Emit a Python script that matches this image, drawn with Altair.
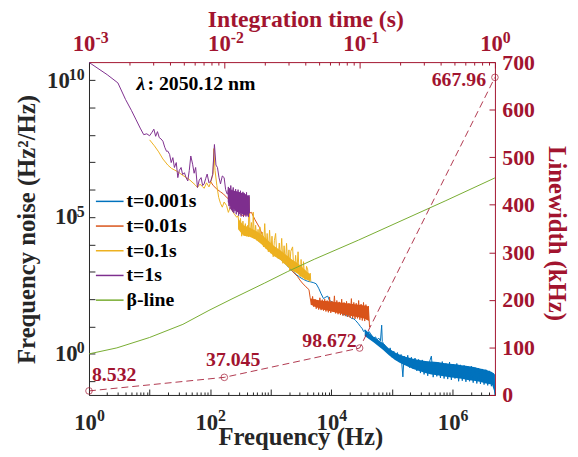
import altair as alt
import pandas as pd

SERIF = "Liberation Serif"
DARK = "#262626"
RED = "#A2142F"

SERIES = ["t=0.001s", "t=0.01s", "t=0.1s", "t=1s", "β-line"]
COLORS = ["#0072BD", "#D95319", "#EDB120", "#7E2F8E", "#77AC30"]

# Spectra: (log10 frequency [Hz], log10 noise [Hz^2/Hz])
BLUE = [
    (3.00, 3.72), (3.06, 3.62), (3.12, 3.52), (3.18, 3.42), (3.24, 3.30), (3.30, 3.15), (3.36, 3.02),
    (3.42, 2.90), (3.48, 2.80), (3.54, 2.72), (3.60, 2.66), (3.66, 2.63), (3.71, 2.60), (3.75, 2.56),
    (3.79, 2.40), (3.83, 2.20), (3.87, 2.02), (3.91, 2.08), (3.94, 2.11), (3.97, 1.95), (4.01, 1.90),
    (4.05, 1.85), (4.09, 1.80), (4.13, 1.72), (4.16, 1.55), (4.19, 1.42), (4.23, 1.45), (4.26, 1.36),
    (4.29, 1.40), (4.33, 1.30), (4.37, 1.28), (4.40, 1.22), (4.44, 1.12), (4.48, 1.00), (4.51, 0.92),
    (4.53, 0.82), (4.56, 0.86), (4.59, 0.70), (4.62, 0.82), (4.64, 0.76), (4.67, 0.66), (4.70, 0.58),
    (4.73, 0.62), (4.75, 0.50), (4.78, 0.58), (4.81, 0.48), (4.83, 1.05), (4.84, 0.45), (4.86, 0.38),
    (4.89, 0.30), (4.91, 0.22), (4.94, 0.02), (4.97, 0.22), (5.00, -0.12), (5.03, 0.10), (5.06, -0.22),
    (5.09, 0.05), (5.12, -0.30), (5.15, -0.02), (5.18, -0.84), (5.20, -0.08), (5.23, -0.40), (5.26, -0.05),
    (5.29, -0.50), (5.32, -0.12), (5.35, -0.55), (5.38, -0.15), (5.41, -0.62), (5.44, -0.20), (5.47, -0.70),
    (5.50, -0.22), (5.53, -0.75), (5.56, -0.30), (5.59, -0.80), (5.62, -0.28), (5.65, -0.08), (5.68, -0.85),
    (5.71, -0.30), (5.74, -0.82), (5.77, -0.32), (5.80, -0.88), (5.83, -0.28), (5.86, -0.90), (5.89, -0.35),
    (5.92, -0.92), (5.95, -0.30), (5.98, -0.95), (6.01, -0.38), (6.04, -0.90), (6.07, -0.35), (6.10, -1.00),
    (6.13, -0.40), (6.16, -0.98), (6.19, -0.42), (6.22, -1.02), (6.25, -0.45), (6.28, -1.00), (6.31, -0.45),
    (6.34, -1.05), (6.37, -0.50), (6.40, -1.08), (6.43, -0.52), (6.46, -1.10), (6.49, -0.55), (6.52, -1.12),
    (6.55, -0.58), (6.58, -1.15), (6.61, -0.62), (6.64, -1.18), (6.67, -0.70), (6.699, -1.50),
]
ORANGE = [
    (2.00, 6.32), (2.05, 6.15), (2.11, 6.02), (2.17, 5.92), (2.22, 5.84), (2.28, 5.70), (2.33, 5.60),
    (2.39, 5.42), (2.44, 5.23), (2.49, 5.12), (2.54, 5.05), (2.60, 5.10), (2.68, 5.17), (2.74, 4.90),
    (2.81, 4.63), (2.86, 4.35), (2.92, 4.03), (2.97, 3.85), (3.03, 3.73), (3.08, 3.72), (3.14, 3.67),
    (3.20, 3.52), (3.25, 3.37), (3.30, 3.20), (3.36, 3.01), (3.40, 2.92), (3.44, 2.83), (3.48, 2.70),
    (3.52, 2.59), (3.58, 2.45), (3.63, 2.35), (3.65, 2.05), (3.67, 1.80), (3.69, 2.10), (3.71, 1.72),
    (3.73, 2.00), (3.75, 1.65), (3.77, 1.95), (3.79, 1.62), (3.81, 2.05), (3.83, 1.60), (3.85, 1.98),
    (3.87, 1.58), (3.89, 2.00), (3.91, 1.55), (3.93, 1.95), (3.95, 1.52), (3.97, 2.08), (3.99, 1.50),
    (4.01, 1.92), (4.03, 1.55), (4.05, 2.12), (4.07, 1.48), (4.09, 1.95), (4.11, 1.45), (4.13, 1.90),
    (4.15, 1.42), (4.17, 2.00), (4.19, 1.40), (4.21, 1.88), (4.23, 1.38), (4.25, 1.92), (4.27, 1.35),
    (4.29, 1.85), (4.31, 1.32), (4.33, 2.02), (4.35, 1.30), (4.37, 1.88), (4.39, 1.28), (4.41, 1.85),
    (4.43, 1.30), (4.45, 1.95), (4.47, 1.25), (4.49, 1.82), (4.51, 1.22), (4.53, 1.88), (4.55, 1.20),
    (4.57, 1.80), (4.59, 1.25), (4.61, 1.75), (4.63, 0.98),
]
YELLOW = [
    (1.00, 7.82), (1.08, 7.60), (1.15, 7.38), (1.22, 7.12), (1.30, 6.90), (1.36, 6.78), (1.41, 6.72),
    (1.46, 6.66), (1.50, 6.60), (1.55, 6.52), (1.60, 6.45), (1.65, 6.38), (1.70, 6.28), (1.75, 6.18),
    (1.79, 6.08), (1.83, 6.20), (1.87, 6.12), (1.90, 6.05), (1.94, 6.25), (1.98, 6.10), (2.02, 6.35),
    (2.05, 6.60), (2.06, 7.50), (2.08, 6.70), (2.11, 6.15), (2.14, 5.72), (2.17, 5.50), (2.20, 5.36),
    (2.23, 5.55), (2.27, 5.42), (2.30, 5.17), (2.33, 5.35), (2.36, 5.25), (2.40, 5.10), (2.44, 4.99),
    (2.46, 5.05), (2.48, 4.60), (2.50, 4.95), (2.52, 4.30), (2.54, 4.85), (2.56, 4.35), (2.58, 4.76),
    (2.60, 4.30), (2.62, 4.70), (2.63, 4.28), (2.64, 5.72), (2.66, 4.30), (2.68, 4.80), (2.70, 4.25),
    (2.71, 5.18), (2.73, 4.20), (2.75, 4.70), (2.77, 4.15), (2.79, 4.55), (2.81, 4.10), (2.82, 4.64),
    (2.84, 4.05), (2.86, 4.45), (2.88, 3.91), (2.90, 4.76), (2.92, 3.85), (2.94, 4.40), (2.96, 3.73),
    (2.98, 4.52), (3.00, 3.68), (3.02, 4.30), (3.04, 3.55), (3.06, 4.15), (3.08, 4.40), (3.10, 3.58),
    (3.12, 3.49), (3.14, 4.05), (3.16, 3.45), (3.18, 4.22), (3.20, 3.31), (3.22, 3.95), (3.24, 3.28),
    (3.26, 4.04), (3.28, 3.20), (3.30, 3.80), (3.31, 3.07), (3.33, 3.75), (3.36, 3.91), (3.38, 3.05),
    (3.39, 3.01), (3.41, 3.60), (3.43, 2.98), (3.45, 3.73), (3.47, 2.90), (3.49, 2.83), (3.50, 3.45),
    (3.52, 2.80), (3.54, 3.37), (3.56, 2.75), (3.57, 2.71), (3.59, 3.20), (3.61, 3.07), (3.62, 2.70),
    (3.63, 2.90), (3.64, 2.65), (3.65, 2.95), (3.66, 2.65),
]
PURPLE = [
    (0.000, 10.65), (0.301, 10.20), (0.477, 9.90), (0.602, 9.30), (0.699, 8.90), (0.778, 8.55),
    (0.845, 8.25), (0.903, 8.01), (0.954, 8.04), (1.000, 7.97), (1.041, 8.10), (1.070, 8.21),
    (1.100, 7.95), (1.130, 8.12), (1.160, 7.90), (1.190, 7.85), (1.220, 7.77), (1.250, 7.55),
    (1.280, 7.40), (1.300, 7.41), (1.330, 7.29), (1.357, 6.99), (1.384, 7.17), (1.410, 6.81),
    (1.440, 6.99), (1.466, 6.44), (1.490, 6.70), (1.520, 6.81), (1.545, 6.55), (1.575, 6.62),
    (1.600, 6.45), (1.630, 6.32), (1.655, 6.70), (1.680, 7.23), (1.710, 6.93), (1.735, 6.60),
    (1.760, 6.81), (1.790, 6.08), (1.820, 6.35), (1.850, 6.44), (1.875, 6.15), (1.900, 6.21),
    (1.925, 6.40), (1.950, 6.57), (1.980, 6.25), (2.010, 6.32), (2.040, 6.55), (2.070, 7.65),
    (2.095, 6.90), (2.120, 6.81), (2.145, 6.45), (2.170, 6.21), (2.200, 6.50), (2.230, 6.44),
    (2.255, 6.00), (2.280, 5.84), (2.29, 5.84), (2.30, 6.10), (2.31, 5.40), (2.32, 6.05), (2.33, 5.30),
    (2.34, 6.15), (2.35, 5.25), (2.36, 6.00), (2.37, 5.20), (2.38, 6.08), (2.39, 5.15), (2.40, 5.95),
    (2.41, 5.22), (2.42, 6.02), (2.43, 5.10), (2.44, 5.92), (2.45, 5.18), (2.46, 6.00), (2.47, 5.05),
    (2.48, 5.90), (2.49, 5.12), (2.50, 5.96), (2.51, 5.02), (2.52, 5.85), (2.53, 5.10), (2.54, 5.92),
    (2.55, 5.00), (2.56, 5.88), (2.57, 5.08), (2.58, 5.80), (2.59, 5.02), (2.60, 5.90), (2.61, 5.05),
    (2.62, 5.75), (2.63, 5.00), (2.64, 5.80), (2.65, 5.15),
]
BETA = [
    (0.00, 0.00), (0.46, 0.22), (1.00, 0.60), (1.55, 1.08), (1.98, 1.59), (2.36, 2.01), (2.90, 2.59),
    (3.28, 3.01), (3.72, 3.46), (4.45, 4.16), (5.89, 5.60), (6.699, 6.43),
]
# Dense (filled-looking) parts of the noisy traces: (log10 f, upper, lower)
BLUE_BAND = [
    (4.55, 0.90, 0.65), (4.70, 0.62, 0.42), (4.85, 0.40, 0.15), (4.95, 0.20, -0.05), (5.05, 0.05, -0.22),
    (5.15, -0.05, -0.35), (5.25, -0.12, -0.45), (5.35, -0.18, -0.55), (5.45, -0.22, -0.62),
    (5.55, -0.26, -0.70), (5.65, -0.28, -0.75), (5.75, -0.30, -0.78), (5.85, -0.33, -0.82),
    (5.95, -0.36, -0.85), (6.05, -0.38, -0.88), (6.15, -0.41, -0.91), (6.25, -0.44, -0.95),
    (6.35, -0.48, -0.98), (6.45, -0.53, -1.02), (6.55, -0.58, -1.08), (6.65, -0.66, -1.12),
    (6.699, -0.75, -1.45),
]
ORANGE_BAND = [
    (3.66, 2.02, 1.80), (3.75, 1.98, 1.70), (3.85, 1.94, 1.62), (3.95, 1.92, 1.58), (4.05, 1.90, 1.52),
    (4.15, 1.88, 1.48), (4.25, 1.85, 1.42), (4.35, 1.82, 1.38), (4.45, 1.80, 1.34), (4.55, 1.77, 1.28),
    (4.62, 1.72, 1.20),
]
YELLOW_BAND = [
    (2.46, 4.95, 4.55), (2.55, 4.70, 4.32), (2.65, 4.62, 4.28), (2.75, 4.50, 4.18), (2.85, 4.35, 4.00),
    (2.95, 4.15, 3.78), (3.05, 3.95, 3.58), (3.15, 3.80, 3.45), (3.25, 3.62, 3.25), (3.35, 3.45, 3.05),
    (3.45, 3.30, 2.92), (3.55, 3.10, 2.75), (3.65, 2.90, 2.65),
]
PURPLE_BAND = [
    (2.29, 6.00, 5.55), (2.35, 5.98, 5.35), (2.42, 5.95, 5.25), (2.50, 5.90, 5.15), (2.57, 5.85, 5.10),
    (2.65, 5.75, 5.12),
]

# Linewidth vs integration time
INT_TIME = [0.001, 0.01, 0.1, 1.0]
LINEWIDTH_KHZ = [8.532, 37.045, 98.672, 667.96]
LW_LABELS = ["8.532", "37.045", "98.672", "667.96"]

# Annotation
LAMBDA_F = [6.1]
LAMBDA_S = [4.5e9]
LAMBDA_TEXT = ["λ", ": 2050.12 nm"]


def spectrum(pairs, name):
    return pd.DataFrame({"f": [10 ** a for a, _ in pairs], "S": [10 ** b for _, b in pairs], "series": name})


def band(rows):
    return pd.DataFrame({"f": [10 ** a for a, _, _ in rows],
                         "top": [10 ** b for _, b, _ in rows],
                         "bot": [10 ** c for _, _, c in rows]})


W, H = 411, 337
XS = alt.Scale(type="log", domain=[1, 5e6], nice=False)
YS = alt.Scale(type="log", domain=[10 ** -1.5, 10 ** 10.66], nice=False)
XS2 = alt.Scale(type="log", domain=[1e-3, 1], nice=False)
YS2 = alt.Scale(type="linear", domain=[0, 700], nice=False, zero=False)
CS = alt.Scale(domain=SERIES, range=COLORS)

lab = dict(labelFont=SERIF, labelFontWeight="bold", labelFlush=False, labelOverlap=False, grid=False)
ttl = dict(titleFont=SERIF, titleFontWeight="bold", titleFontSize=25, titleBaseline="alphabetic",
           titleAlign="center")

EXP = "round(log(datum.value)/LN10)"

AX_BOTTOM = alt.Axis(orient="bottom", values=[1, 1e2, 1e4, 1e6], labelExpr="'10'", ticks=False, tickSize=0,
                     domainColor=DARK, domainWidth=1, labelFontSize=23, labelColor=DARK,
                     labelBaseline="alphabetic", labelAlign="center", labelPadding=35, labelOffset=-4,
                     title="Frequency (Hz)", titleColor=DARK, titleX=214, titleY=50, titleAngle=0, **lab, **ttl)
AX_LEFT = alt.Axis(orient="left", values=[1, 1e5, 1e10], labelExpr="'10'", ticks=False, tickSize=0,
                   domainColor=DARK, domainWidth=1, labelFontSize=23, labelColor=DARK,
                   labelAlign="right", labelBaseline="middle",
                   labelPadding={"condition": {"test": "datum.value > 1e9", "value": 20}, "value": 12},
                   title="Frequency noise (Hz²/Hz)", titleColor=DARK, titleX=-55, titleY=169,
                   titleAngle=-90, **lab, **ttl)
AX_BOTTOM_T = alt.Axis(orient="bottom", offset=-6, values=[10 ** k for k in range(0, 7)], tickSize=6,
                       tickColor=DARK, tickWidth=1, domain=False,
                       labelExpr=f"({EXP} % 2 == 0) ? '' + {EXP} : ''", labelFontSize=16, labelColor=DARK,
                       labelAlign="left", labelBaseline="alphabetic", labelPadding=26, labelOffset=7.5,
                       title=None, **lab)
AX_LEFT_T = alt.Axis(orient="left", offset=-6, values=[10 ** k for k in range(-1, 11)], tickSize=6,
                     tickColor=DARK, tickWidth=1, domain=False,
                     labelExpr=f"({EXP} % 5 == 0) ? '' + {EXP} : ''", labelFontSize=16, labelColor=DARK,
                     labelAlign="right", labelBaseline="middle", labelPadding=5, labelOffset=-6,
                     title=None, **lab)
AX_BOTTOM_M = alt.Axis(orient="bottom", offset=-3,
                       values=[m * 10 ** k for k in range(0, 7) for m in range(2, 10) if m * 10 ** k <= 5e6],
                       tickSize=3, tickColor=DARK, tickWidth=1, domain=False, labels=False, title=None, grid=False)

AX_TOP = alt.Axis(orient="top", values=[1e-3, 1e-2, 1e-1, 1], labelExpr="'10'", ticks=False, tickSize=0,
                  domainColor=RED, domainWidth=1, labelFontSize=23, labelColor=RED,
                  labelBaseline="alphabetic", labelAlign="center", labelPadding=12,
                  labelOffset={"condition": {"test": "datum.value < 0.5", "value": -5.5}, "value": -4},
                  title="Integration time (s)", titleColor=RED, titleX=219, titleY=-36, titleAngle=0,
                  **lab, **{**ttl, "titleFontSize": 24})
AX_TOP_T = alt.Axis(orient="top", offset=-6, values=[1e-3, 1e-2, 1e-1, 1], tickSize=6, tickColor=RED,
                    tickWidth=1, domain=False, labelExpr=f"'' + {EXP}", labelFontSize=16, labelColor=RED,
                    labelAlign="left", labelBaseline="alphabetic", labelPadding=20,
                    labelOffset={"condition": {"test": "datum.value < 0.5", "value": 6}, "value": 7.5},
                    title=None, **lab)
AX_TOP_M = alt.Axis(orient="top", offset=-3, values=[m * 10 ** k for k in (-3, -2, -1) for m in range(2, 10)],
                    tickSize=3, tickColor=RED, tickWidth=1, domain=False, labels=False, title=None, grid=False)
AX_RIGHT = alt.Axis(orient="right", values=list(range(0, 701, 100)), ticks=False, tickSize=0,
                    domainColor=RED, domainWidth=1, labelFontSize=22, labelColor=RED, labelAlign="left",
                    labelBaseline="middle", labelPadding=7, title="Linewidth (kHz)", titleColor=RED,
                    titleX=54, titleY=173, titleAngle=90, **lab, **ttl)
AX_RIGHT_T = alt.Axis(orient="right", offset=-6, values=list(range(0, 701, 100)), tickSize=6, tickColor=RED,
                      tickWidth=1, domain=False, labels=False, title=None, grid=False)

X_MAIN = alt.X("f:Q", scale=XS, axis=AX_BOTTOM)
Y_MAIN = alt.Y("S:Q", scale=YS, axis=AX_LEFT)

LEGEND = alt.Legend(orient="none", legendX=6, legendY=126, title=None, symbolType="stroke", symbolSize=784,
                    symbolStrokeWidth=1.5, labelFont=SERIF, labelFontSize=20, labelFontWeight="bold",
                    labelColor="black", labelOffset=2, rowPadding=0, padding=0, labelLimit=0)
COLOR = alt.Color("series:N", scale=CS, legend=LEGEND)


def band_layer(rows, color):
    return alt.Chart(band(rows)).mark_area(color=color, opacity=1).encode(
        x=X_MAIN, y=alt.Y("top:Q", scale=YS, axis=AX_LEFT), y2="bot:Q")


def line_layer(pairs, name):
    return alt.Chart(spectrum(pairs, name)).mark_line(strokeWidth=1, clip=True).encode(
        x=X_MAIN, y=Y_MAIN, color=COLOR)


ann = pd.DataFrame({"f": LAMBDA_F, "S": LAMBDA_S})
lam1 = alt.Chart(ann).mark_text(text=LAMBDA_TEXT[0], font=SERIF, fontSize=20, fontStyle="italic",
                                fontWeight="bold", align="left", baseline="alphabetic", color="black").encode(
    x=X_MAIN, y=Y_MAIN)
lam2 = alt.Chart(ann).mark_text(text=LAMBDA_TEXT[1], font=SERIF, fontSize=20, fontWeight="bold",
                                align="left", baseline="alphabetic", color="black", dx=11).encode(
    x=X_MAIN, y=Y_MAIN)

main = alt.layer(
    band_layer(BLUE_BAND, COLORS[0]), line_layer(BLUE, SERIES[0]),
    band_layer(ORANGE_BAND, COLORS[1]), line_layer(ORANGE, SERIES[1]),
    band_layer(YELLOW_BAND, COLORS[2]), line_layer(YELLOW, SERIES[2]),
    band_layer(PURPLE_BAND, COLORS[3]), line_layer(PURPLE, SERIES[3]),
    line_layer(BETA, SERIES[4]),
    lam1, lam2,
)

dummy = pd.DataFrame({"f": [1.0], "S": [1.0]})
ticks_main = alt.Chart(dummy).mark_point(opacity=0).encode(
    x=alt.X("f:Q", scale=XS, axis=AX_BOTTOM_T), y=alt.Y("S:Q", scale=YS, axis=AX_LEFT_T))
minor_main = alt.Chart(dummy).mark_point(opacity=0).encode(
    x=alt.X("f:Q", scale=XS, axis=AX_BOTTOM_M), y=alt.Y("S:Q", scale=YS, axis=None))

lw_df = pd.DataFrame({"time": INT_TIME, "lw": LINEWIDTH_KHZ, "label": LW_LABELS})
X_SEC = alt.X("time:Q", scale=XS2, axis=AX_TOP)
Y_SEC = alt.Y("lw:Q", scale=YS2, axis=AX_RIGHT)
lw_line = alt.Chart(lw_df).mark_line(color=RED, strokeDash=[7, 4], strokeWidth=1, opacity=0.85).encode(
    x=X_SEC, y=Y_SEC)
lw_pts = alt.Chart(lw_df).mark_point(shape="circle", filled=False, color=RED, size=45, strokeWidth=1).encode(
    x=X_SEC, y=Y_SEC)
LABEL_STYLE = [("left", 3, -10), ("center", 9, -11), ("right", -3, -1), ("right", -9, 9)]
lw_texts = [
    alt.Chart(lw_df.iloc[[i]]).mark_text(align=a, dx=dx, dy=dy, font=SERIF, fontSize=20, fontWeight="bold",
                                          color=RED, baseline="alphabetic").encode(x=X_SEC, y=Y_SEC, text="label:N")
    for i, (a, dx, dy) in enumerate(LABEL_STYLE)
]
lw = alt.layer(lw_line, lw_pts, *lw_texts)

dummy2 = pd.DataFrame({"time": [0.1], "lw": [100.0]})
ticks_sec = alt.Chart(dummy2).mark_point(opacity=0).encode(
    x=alt.X("time:Q", scale=XS2, axis=AX_TOP_T), y=alt.Y("lw:Q", scale=YS2, axis=AX_RIGHT_T))
minor_sec = alt.Chart(dummy2).mark_point(opacity=0).encode(
    x=alt.X("time:Q", scale=XS2, axis=AX_TOP_M), y=alt.Y("lw:Q", scale=YS2, axis=None))

chart = alt.layer(main, ticks_main, minor_main, lw, ticks_sec, minor_sec).resolve_scale(
    x="independent", y="independent"
).properties(
    width=W, height=H,
    autosize=alt.AutoSizeParams(type="none"),
    padding={"left": 82, "top": 52, "right": 76, "bottom": 58},
).configure_view(stroke=None)

chart.save("out.html", embed_options={"renderer": "svg", "actions": False})
